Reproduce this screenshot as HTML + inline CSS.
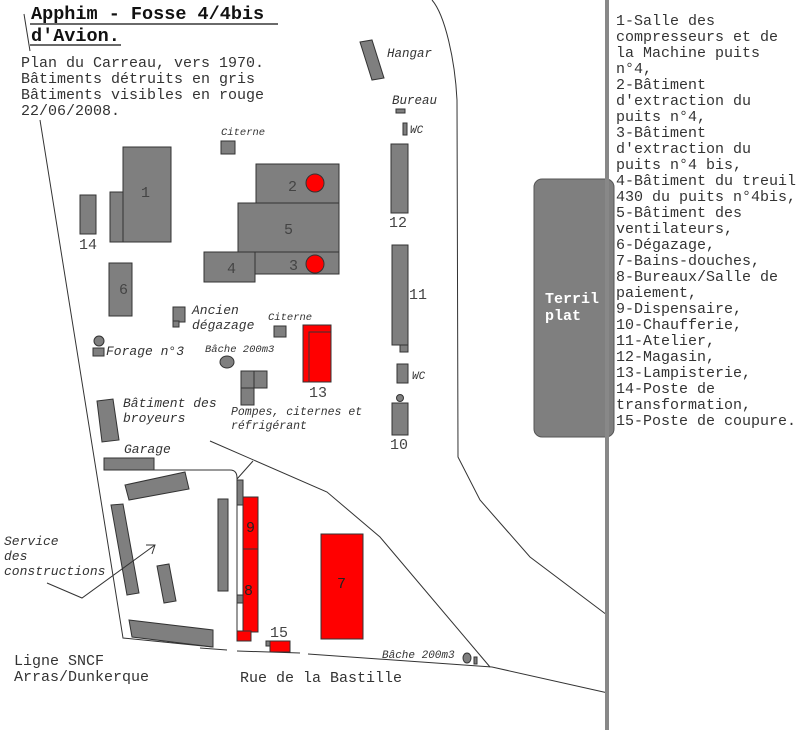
<!DOCTYPE html>
<html><head><meta charset="utf-8"><style>
html,body{margin:0;padding:0;background:#fff;}
svg{display:block;}
text{font-family:"Liberation Mono",monospace;fill:#333;}
.i{font-style:italic;font-size:12px;}
.n{font-size:15px;fill:#444;}
.d{font-size:15px;fill:#222;}
.g{fill:#7f7f7f;stroke:#333;stroke-width:1;}
.r{fill:#ff0000;stroke:#333;stroke-width:1;}
.l{fill:none;stroke:#333;stroke-width:1;}
</style></head><body>
<svg width="800" height="730" viewBox="0 0 800 730" xmlns="http://www.w3.org/2000/svg">
<rect x="0" y="0" width="800" height="730" fill="#fff"/>
<text x="31" y="19" style="font-size:18.5px;font-weight:bold;fill:#111">Apphim - Fosse 4/4bis</text>
<line x1="30" y1="24" x2="278" y2="24" stroke="#111" stroke-width="1.3"/>
<text x="31" y="41" style="font-size:18.5px;font-weight:bold;fill:#111">d'Avion.</text>
<line x1="30" y1="45" x2="121" y2="45" stroke="#111" stroke-width="1.3"/>
<g style="font-size:15px">
<text x="21" y="67">Plan du Carreau, vers 1970.</text>
<text x="21" y="83">Bâtiments détruits en gris</text>
<text x="21" y="99">Bâtiments visibles en rouge</text>
<text x="21" y="115">22/06/2008.</text>
</g>
<polyline class="l" points="24,14 30,51"/>
<polyline class="l" points="40,120 123,638 213,647"/>
<polyline class="l" points="200,648 227,650"/>
<polyline class="l" points="237,651 300,653"/>
<polyline class="l" points="308,654 492,667 608,693"/>
<path class="l" d="M432,0 C445,15 455,60 457,100 L458,457 L480,500 L530,557 L607,615"/>
<polyline class="l" points="210,441 327,492 380,537 490,667"/>
<polyline class="l" points="237,479 253,461"/>
<path class="l" d="M154,470 L230,470 Q237,470 237,478 L237,632"/>
<polygon class="g" points="360,42 372,40 384,78 372,80"/>
<text class="i" x="387" y="57" style="font-size:12.5px">Hangar</text>
<text class="i" x="392" y="104" style="font-size:12.5px">Bureau</text>
<rect class="g" x="396" y="109" width="9" height="4"/>
<rect class="g" x="403" y="123" width="4" height="12"/>
<text class="i" x="410" y="133" style="font-size:11px">WC</text>
<rect class="g" x="391" y="144" width="17" height="69"/>
<text class="n" x="389" y="227">12</text>
<rect class="g" x="400" y="345" width="8" height="7"/>
<rect class="g" x="392" y="245" width="16" height="100"/>
<text class="n" x="409" y="299">11</text>
<rect class="g" x="397" y="364" width="11" height="19"/>
<text class="i" x="412" y="379" style="font-size:11px">WC</text>
<circle class="g" cx="400" cy="398" r="3.5"/>
<rect class="g" x="392" y="403" width="16" height="32"/>
<text class="n" x="390" y="449">10</text>
<rect x="534" y="179" width="80" height="258" rx="8" fill="#7f7f7f" stroke="#555"/>
<rect x="605" y="0" width="4" height="730" fill="#888"/>
<text x="545" y="303" style="font-size:15px;font-weight:bold;fill:#fff">Terril</text>
<text x="545" y="320" style="font-size:15px;font-weight:bold;fill:#fff">plat</text>
<g style="font-size:15px">
<text x="616" y="25">1-Salle des</text>
<text x="616" y="41">compresseurs et de</text>
<text x="616" y="57">la Machine puits</text>
<text x="616" y="73">n°4,</text>
<text x="616" y="89">2-Bâtiment</text>
<text x="616" y="105">d'extraction du</text>
<text x="616" y="121">puits n°4,</text>
<text x="616" y="137">3-Bâtiment</text>
<text x="616" y="153">d'extraction du</text>
<text x="616" y="169">puits n°4 bis,</text>
<text x="616" y="185">4-Bâtiment du treuil</text>
<text x="616" y="201">430 du puits n°4bis,</text>
<text x="616" y="217">5-Bâtiment des</text>
<text x="616" y="233">ventilateurs,</text>
<text x="616" y="249">6-Dégazage,</text>
<text x="616" y="265">7-Bains-douches,</text>
<text x="616" y="281">8-Bureaux/Salle de</text>
<text x="616" y="297">paiement,</text>
<text x="616" y="313">9-Dispensaire,</text>
<text x="616" y="329">10-Chaufferie,</text>
<text x="616" y="345">11-Atelier,</text>
<text x="616" y="361">12-Magasin,</text>
<text x="616" y="377">13-Lampisterie,</text>
<text x="616" y="393">14-Poste de</text>
<text x="616" y="409">transformation,</text>
<text x="616" y="425">15-Poste de coupure.</text>
</g>
<rect class="g" x="123" y="147" width="48" height="95"/>
<rect class="g" x="110" y="192" width="13" height="50"/>
<text class="n" x="141" y="197">1</text>
<rect class="g" x="80" y="195" width="16" height="39"/>
<text class="n" x="79" y="249">14</text>
<rect class="g" x="221" y="141" width="14" height="13"/>
<text class="i" x="221" y="135" style="font-size:10.5px">Citerne</text>
<rect class="g" x="256" y="164" width="83" height="39"/>
<text class="n" x="288" y="191">2</text>
<circle cx="315" cy="183" r="9" fill="#f00" stroke="#333"/>
<rect class="g" x="238" y="203" width="101" height="49"/>
<text class="n" x="284" y="234">5</text>
<rect class="g" x="255" y="252" width="84" height="22"/>
<text class="n" x="289" y="270">3</text>
<circle cx="315" cy="264" r="9" fill="#f00" stroke="#333"/>
<rect class="g" x="204" y="252" width="51" height="30"/>
<text class="n" x="227" y="273">4</text>
<rect class="g" x="109" y="263" width="23" height="53"/>
<text class="n" x="119" y="294">6</text>
<rect class="g" x="173" y="307" width="12" height="15"/>
<rect class="g" x="173" y="321" width="6" height="6"/>
<text class="i" x="192" y="314" style="font-size:13px">Ancien</text>
<text class="i" x="192" y="329" style="font-size:13px">dégazage</text>
<rect class="g" x="274" y="326" width="12" height="11"/>
<text class="i" x="268" y="320" style="font-size:10.5px">Citerne</text>
<rect class="r" x="303" y="325" width="28" height="57"/>
<polyline class="l" points="309,382 309,332 331,332"/>
<text class="n" x="309" y="397">13</text>
<circle class="g" cx="99" cy="341" r="5"/>
<rect class="g" x="93" y="348" width="11" height="8"/>
<text class="i" x="106" y="355" style="font-size:13px">Forage n°3</text>
<ellipse class="g" cx="227" cy="362" rx="7" ry="6"/>
<text class="i" x="205" y="352" style="font-size:10.5px">Bâche 200m3</text>
<rect class="g" x="241" y="371" width="13" height="17"/>
<rect class="g" x="254" y="371" width="13" height="17"/>
<rect class="g" x="241" y="388" width="13" height="17"/>
<text class="i" x="231" y="415" style="font-size:11.5px">Pompes, citernes et</text>
<text class="i" x="231" y="429" style="font-size:11.5px">réfrigérant</text>
<polygon class="g" points="97,401 113,399 119,440 102,442"/>
<text class="i" x="123" y="407" style="font-size:13px">Bâtiment des</text>
<text class="i" x="123" y="422" style="font-size:13px">broyeurs</text>
<text class="i" x="124" y="453" style="font-size:13px">Garage</text>
<rect class="g" x="104" y="458" width="50" height="12"/>
<polygon class="g" points="125,485 185,472 189,489 129,500"/>
<polygon class="g" points="111,505 123,504 139,593 127,595"/>
<polygon class="g" points="157,566 169,564 176,601 164,603"/>
<rect class="g" x="218" y="499" width="10" height="92"/>
<polygon class="g" points="129,620 213,630 213,647 132,637"/>
<rect class="g" x="237" y="480" width="6" height="25"/>
<rect class="g" x="237" y="595" width="6" height="8"/>
<rect class="r" x="243" y="497" width="15" height="135"/>
<line x1="243" y1="549" x2="258" y2="549" stroke="#333"/>
<text class="d" x="246" y="532">9</text>
<text class="d" x="244" y="595">8</text>
<rect class="r" x="237" y="631" width="14" height="10"/>
<rect class="g" x="266" y="641" width="4" height="5"/>
<rect class="r" x="270" y="641" width="20" height="11"/>
<text class="n" x="270" y="637">15</text>
<rect class="r" x="321" y="534" width="42" height="105"/>
<text class="d" x="337" y="588">7</text>
<text class="i" x="382" y="658" style="font-size:11px">Bâche 200m3</text>
<ellipse class="g" cx="467" cy="658" rx="4" ry="5"/>
<rect class="g" x="474" y="657" width="3" height="7"/>
<text class="i" x="4" y="545" style="font-size:13px">Service</text>
<text class="i" x="4" y="560" style="font-size:13px">des</text>
<text class="i" x="4" y="575" style="font-size:13px">constructions</text>
<polyline class="l" points="47,583 82,598 155,545"/>
<polyline class="l" points="146,545 155,545 152,554"/>
<g style="font-size:15px">
<text x="14" y="665">Ligne SNCF</text>
<text x="14" y="681">Arras/Dunkerque</text>
<text x="240" y="682">Rue de la Bastille</text>
</g>
</svg>
</body></html>
